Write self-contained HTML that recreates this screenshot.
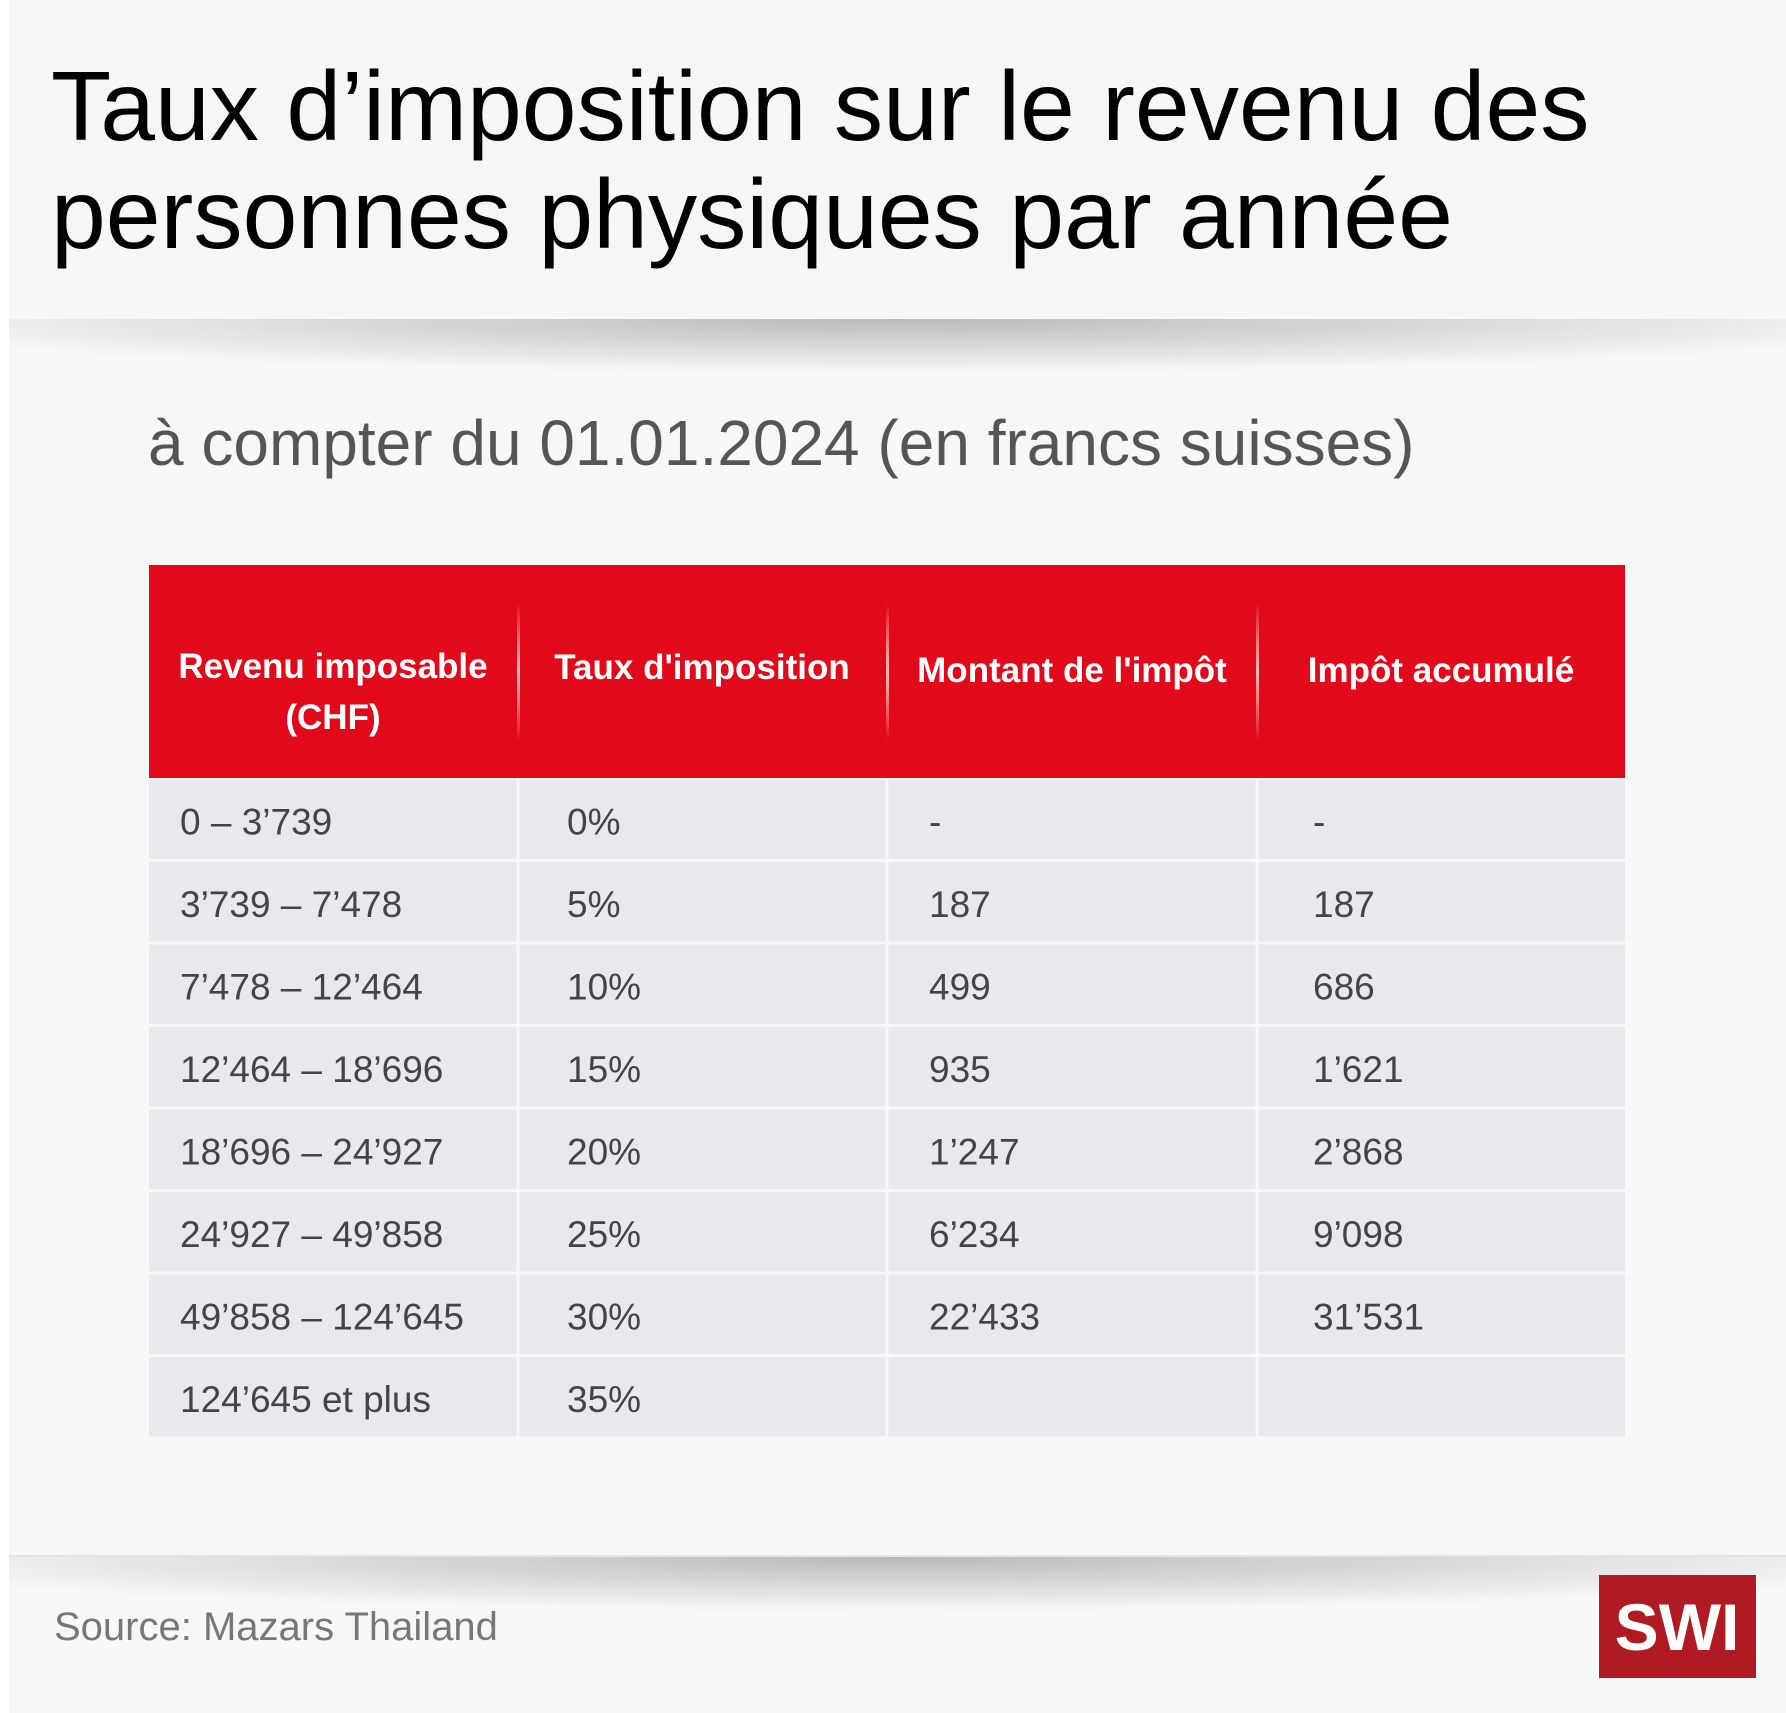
<!DOCTYPE html>
<html><head><meta charset="utf-8"><style>
html,body{margin:0;padding:0;background:#f6f8f7;}
svg{display:block;font-family:"Liberation Sans",sans-serif;}
</style></head><body>
<svg width="1786" height="1713" viewBox="0 0 1786 1713">
<defs>
<radialGradient id="shr" cx="0.5" cy="0" r="0.6"><stop offset="0" stop-color="#000" stop-opacity="0.25"/><stop offset="1" stop-color="#000" stop-opacity="0"/></radialGradient>
<linearGradient id="sep" x1="0" y1="0" x2="0" y2="1"><stop offset="0" stop-color="#fff" stop-opacity="0"/><stop offset="0.5" stop-color="#ffd0c8" stop-opacity="0.9"/><stop offset="1" stop-color="#fff" stop-opacity="0"/></linearGradient>
</defs>
<rect x="0" y="0" width="1786" height="1713" fill="#f6f8f7"/>
<rect x="0" y="0" width="9" height="1713" fill="#ffffff"/>
<rect x="9" y="0" width="1777" height="319" fill="#f5f6f5"/>
<rect x="9" y="319" width="1777" height="90" fill="url(#shr)"/>
<text x="51" y="140" font-size="98.5" fill="#000">Taux d’imposition sur le revenu des</text>
<text x="51" y="248" font-size="98.5" fill="#000">personnes physiques par année</text>
<text x="148" y="465" font-size="64" fill="#555">à compter du 01.01.2024 (en francs suisses)</text>

<g>
<rect x="149" y="565" width="1476" height="213" fill="#e20a1a"/>
<rect x="517" y="604" width="3" height="136" fill="url(#sep)"/>
<rect x="886" y="604" width="3" height="136" fill="url(#sep)"/>
<rect x="1256" y="604" width="3" height="136" fill="url(#sep)"/>
<g font-size="35" font-weight="bold" fill="#fff" text-anchor="middle">
<text x="333" y="678">Revenu imposable</text>
<text x="333" y="729">(CHF)</text>
<text x="702" y="679">Taux d'imposition</text>
<text x="1072" y="682">Montant de l'impôt</text>
<text x="1441" y="682">Impôt accumulé</text>
</g>
<g id="rows"></g>
</g>

<rect x="9" y="1555" width="1777" height="2" fill="#e4e4e4"/>
<rect x="9" y="1557" width="1777" height="90" fill="url(#shr)"/>
<text x="54" y="1640" font-size="40" fill="#777">Source: Mazars Thailand</text>
<rect x="1599" y="1575" width="157" height="103" fill="#b01a23"/>
<text x="1677" y="1650" font-size="66" font-weight="bold" fill="#fff" text-anchor="middle">SWI</text>
</svg>
<script>
const revenu=["0 – 3’739","3’739 – 7’478","7’478 – 12’464","12’464 – 18’696","18’696 – 24’927","24’927 – 49’858","49’858 – 124’645","124’645 et plus"];
const taux=["0%","5%","10%","15%","20%","25%","30%","35%"];
const montant=["-","187","499","935","1’247","6’234","22’433",""];
const cumul=["-","187","686","1’621","2’868","9’098","31’531",""];
const NS="http://www.w3.org/2000/svg";
const g=document.getElementById("rows");
const colX=[149,518,887,1257,1625];
const textX=[180,567,929,1313];
const rowTop=778,rowH=82.5;
const cols=[revenu,taux,montant,cumul];
for(let r=0;r<revenu.length;r++){
  const y=rowTop+r*rowH;
  for(let c=0;c<4;c++){
    const rc=document.createElementNS(NS,"rect");
    rc.setAttribute("x",colX[c]+(c?1.5:0));
    rc.setAttribute("y",y+1.5);
    rc.setAttribute("width",colX[c+1]-colX[c]-(c?1.5:0)-(c<3?1.5:0));
    rc.setAttribute("height",rowH-3);
    rc.setAttribute("fill","#e8e9ee");
    
    
    g.appendChild(rc);
    const t=document.createElementNS(NS,"text");
    t.setAttribute("x",textX[c]);
    t.setAttribute("y",y+rowH/2+15);
    t.setAttribute("font-size","37");
    t.setAttribute("fill","#444");
    t.textContent=cols[c][r];
    
    
    g.appendChild(t);
  }
}
</script>
</body></html>
